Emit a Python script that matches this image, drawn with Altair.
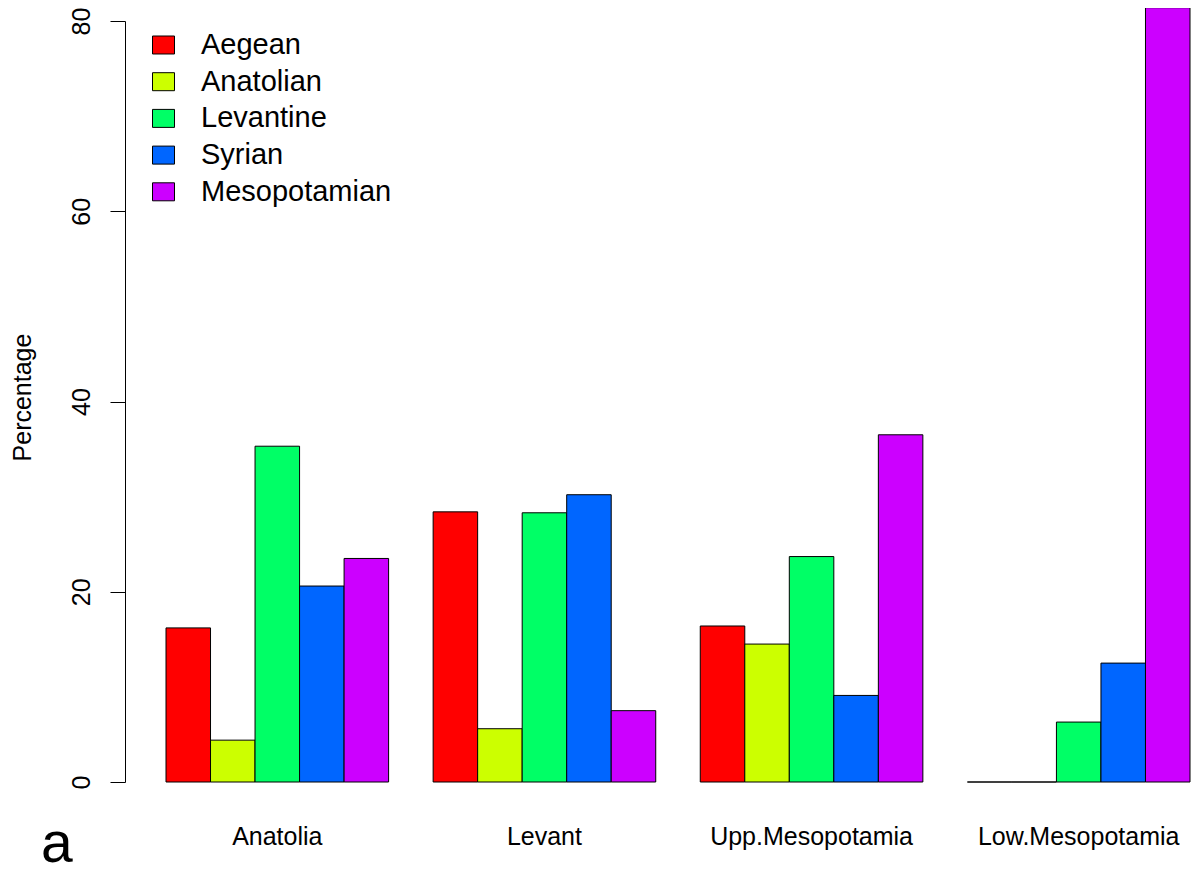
import altair as alt
import pandas as pd

regions = ["Anatolia", "Levant", "Upp.Mesopotamia", "Low.Mesopotamia"]
series = ["Aegean", "Anatolian", "Levantine", "Syrian", "Mesopotamian"]
colors = ["#FF0000", "#CCFF00", "#00FF66", "#0066FF", "#CC00FF"]

aegean = [16.2, 28.4, 16.4, 0.0]
anatolian = [4.4, 5.6, 14.5, 0.0]
levantine = [35.3, 28.3, 23.7, 6.3]
syrian = [20.6, 30.2, 9.1, 12.5]
mesopotamian = [23.5, 7.5, 36.5, 81.4]

y_ticks = [0, 20, 40, 60, 80]

values = [aegean, anatolian, levantine, syrian, mesopotamian]
rows = []
for s, vals in zip(series, values):
    for r, v in zip(regions, vals):
        rows.append({"region": r, "series": s, "value": v})
df = pd.DataFrame(rows)

FONT = "Liberation Sans"

bars = alt.Chart(df).mark_bar(stroke="black", strokeWidth=1, clip=False).encode(
    x=alt.X("region:N", sort=regions,
            scale=alt.Scale(paddingInner=1/6, paddingOuter=0),
            axis=alt.Axis(title=None, domain=False, ticks=False, tickSize=0,
                          labelAngle=0, labelFontSize=25, labelFont=FONT,
                          labelColor="black", labelBaseline="alphabetic",
                          labelPadding=62, labelLimit=0)),
    xOffset=alt.XOffset("series:N", sort=series,
                        scale=alt.Scale(paddingInner=0, paddingOuter=0)),
    y=alt.Y("value:Q",
            scale=alt.Scale(domain=[0, 80], nice=False, zero=True),
            axis=alt.Axis(title="Percentage", values=y_ticks, grid=False,
                          offset=41, tickSize=15, tickColor="black", tickWidth=1,
                          domainColor="black", domainWidth=1,
                          labelAngle=270, labelAlign="center",
                          labelBaseline="alphabetic", labelPadding=21,
                          labelFontSize=25, labelFont=FONT, labelColor="black",
                          labelLimit=0,
                          titleFont=FONT, titleFontSize=25, titleFontWeight="normal",
                          titleColor="black", titleAngle=270, titleAlign="center",
                          titleBaseline="alphabetic", titleX=-95, titleY=376)),
    color=alt.Color("series:N", sort=series,
                    scale=alt.Scale(domain=series, range=colors),
                    legend=alt.Legend(title=None, orient="none", legendX=-17, legendY=9.5,
                                      symbolType="M-1,-0.818L1,-0.818L1,0.818L-1,0.818Z",
                                      symbolSize=484, symbolStrokeColor="black",
                                      symbolStrokeWidth=1, symbolOpacity=1,
                                      labelFont=FONT, labelFontSize=29,
                                      labelColor="black", labelOffset=23,
                                      labelLimit=0,
                                      rowPadding=6.7, padding=0)),
)

label_df = pd.DataFrame({"t": ["a"]})
panel_label = alt.Chart(label_df).mark_text(
    font=FONT, fontSize=57, align="left", baseline="alphabetic", color="black"
).encode(text="t:N", x=alt.value(-125), y=alt.value(841))

chart = alt.layer(bars, panel_label).properties(
    width=1024, height=761,
    autosize=alt.AutoSizeParams(type="none"),
    padding={"left": 158, "top": 13, "right": 1, "bottom": 96},
    background="white",
).configure_view(stroke=None)

chart.save("out.html", embed_options={"renderer": "svg", "actions": False})
